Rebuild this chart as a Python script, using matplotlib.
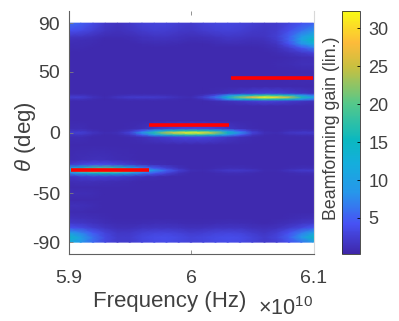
import matplotlib
matplotlib.use('Agg')
import matplotlib.pyplot as plt
from matplotlib.colors import LinearSegmentedColormap
import numpy as np

# ── Data ──────────────────────────────────────────────────────────────────────
freq_ghz = [590, 591, 592, 593, 594, 595, 596, 597, 598, 599, 600,
            601, 602, 603, 604, 605, 606, 607, 608, 609, 610]   # x 1e8 Hz

theta = [-90, -86, -82, -78, -74, -70, -65, -60, -55, -50, -45, -40, -36, -33, -31, -29, -26, -22,
         -10, -3.5, -1.7, 0, 1.7, 3.5, 10, 22, 26, 27.6, 29.3, 31, 32.6, 38, 44, 50, 56, 62, 66, 70, 73, 76, 79, 84, 90]

gain = [
    [12.0, 8.5, 5.5, 3.2, 2.2, 2.2, 3.0, 3.4, 3.6, 3.2, 2.8, 3.0, 3.4, 3.6, 3.4, 2.8, 2.0, 2.4, 4.0, 6.0, 9.0],
    [14.5, 10.0, 6.0, 3.4, 2.2, 2.3, 3.1, 3.6, 3.8, 3.4, 2.9, 3.1, 3.5, 3.8, 3.6, 2.9, 2.2, 3.0, 5.0, 8.5, 14.5],
    [9.0, 7.0, 4.5, 2.8, 1.8, 1.9, 2.5, 2.9, 3.0, 2.6, 2.2, 2.4, 2.8, 3.0, 2.8, 2.2, 1.7, 2.4, 4.0, 6.5, 10.0],
    [4.0, 3.4, 2.4, 1.6, 1.2, 1.2, 1.5, 1.7, 1.7, 1.5, 1.3, 1.4, 1.6, 1.7, 1.6, 1.3, 1.1, 1.4, 2.2, 3.2, 4.5],
    [2.0, 1.8, 1.4, 1.0, 0.8, 0.8, 0.9, 1.0, 1.0, 0.9, 0.8, 0.8, 0.9, 1.0, 0.9, 0.8, 0.7, 0.9, 1.2, 1.6, 2.0],
    [1.4, 1.2, 1.0, 0.8, 0.7, 0.7, 0.7, 0.7, 0.7, 0.7, 0.7, 0.7, 0.7, 0.7, 0.7, 0.7, 0.7, 0.7, 0.8, 1.0, 1.2],
    [0.8, 0.8, 0.7, 0.6, 0.6, 0.6, 0.6, 0.6, 0.6, 0.6, 0.6, 0.6, 0.6, 0.6, 0.6, 0.6, 0.6, 0.6, 0.6, 0.6, 0.7],
    [1.2, 1.1, 0.9, 0.7, 0.6, 0.6, 0.6, 0.6, 0.6, 0.6, 0.6, 0.6, 0.6, 0.6, 0.6, 0.6, 0.6, 0.6, 0.6, 0.6, 0.6],
    [0.7, 0.7, 0.6, 0.6, 0.6, 0.6, 0.6, 0.6, 0.6, 0.6, 0.6, 0.6, 0.6, 0.6, 0.6, 0.6, 0.6, 0.6, 0.6, 0.6, 0.6],
    [1.0, 1.0, 0.9, 0.7, 0.6, 0.6, 0.6, 0.6, 0.6, 0.6, 0.6, 0.6, 0.6, 0.6, 0.6, 0.6, 0.6, 0.6, 0.6, 0.6, 0.6],
    [0.7, 0.7, 0.7, 0.6, 0.6, 0.6, 0.6, 0.6, 0.6, 0.6, 0.6, 0.6, 0.6, 0.6, 0.6, 0.6, 0.6, 0.6, 0.6, 0.6, 0.6],
    [1.0, 1.1, 1.1, 1.0, 0.9, 0.8, 0.7, 0.6, 0.6, 0.6, 0.6, 0.6, 0.6, 0.6, 0.6, 0.6, 0.6, 0.6, 0.6, 0.6, 0.6],
    [1.6, 2.2, 2.5, 2.5, 2.2, 1.7, 1.2, 0.9, 0.7, 0.6, 0.6, 0.6, 0.6, 0.6, 0.6, 0.6, 0.6, 0.6, 0.6, 0.6, 0.6],
    [7.0, 11.0, 14.0, 15.0, 13.0, 10.0, 6.5, 4.5, 2.8, 1.3, 0.7, 0.7, 0.8, 1.0, 1.0, 0.8, 0.7, 0.7, 0.8, 1.0, 1.0],
    [14.0, 22.0, 28.0, 30.0, 28.0, 21.0, 13.0, 9.0, 5.0, 2.5, 1.0, 0.8, 1.4, 2.0, 2.0, 1.6, 0.8, 0.8, 1.5, 2.2, 2.2],
    [9.0, 14.0, 18.0, 19.0, 17.0, 12.0, 7.0, 4.5, 2.6, 1.3, 0.7, 0.7, 0.8, 1.0, 1.0, 0.8, 0.7, 0.7, 0.8, 1.0, 1.0],
    [2.0, 3.0, 3.6, 3.6, 3.0, 2.2, 1.4, 1.0, 0.8, 0.6, 0.6, 0.6, 0.6, 0.6, 0.6, 0.6, 0.6, 0.6, 0.6, 0.6, 0.6],
    [0.8, 1.0, 1.1, 1.1, 0.9, 0.8, 0.7, 0.6, 0.6, 0.6, 0.6, 0.6, 0.6, 0.6, 0.6, 0.6, 0.6, 0.6, 0.6, 0.6, 0.6],
    [0.6, 0.6, 0.6, 0.6, 0.6, 0.6, 0.6, 0.6, 0.6, 0.6, 0.6, 0.6, 0.6, 0.6, 0.6, 0.6, 0.6, 0.6, 0.6, 0.6, 0.6],
    [0.9, 1.0, 0.7, 0.6, 0.6, 0.8, 1.2, 1.8, 2.4, 3.0, 3.2, 3.1, 2.6, 1.8, 1.2, 0.8, 0.6, 0.6, 0.6, 0.7, 0.7],
    [1.5, 1.7, 1.0, 0.7, 0.8, 1.6, 4.5, 9.0, 13.0, 16.0, 17.0, 16.0, 13.0, 8.0, 4.5, 1.7, 0.8, 0.7, 1.0, 1.2, 1.2],
    [2.4, 2.6, 1.5, 0.9, 1.2, 3.0, 9.0, 17.0, 25.0, 30.0, 32.0, 30.5, 24.0, 15.0, 8.0, 3.0, 1.2, 0.9, 1.8, 2.2, 2.2],
    [1.5, 1.7, 1.0, 0.7, 0.8, 1.6, 4.5, 9.0, 13.0, 16.0, 17.0, 16.0, 13.0, 8.0, 4.5, 1.7, 0.8, 0.7, 1.0, 1.2, 1.2],
    [0.9, 1.0, 0.7, 0.6, 0.6, 0.8, 1.2, 1.8, 2.4, 3.0, 3.2, 3.1, 2.6, 1.8, 1.2, 0.8, 0.6, 0.6, 0.6, 0.7, 0.7],
    [0.6, 0.6, 0.6, 0.6, 0.6, 0.6, 0.6, 0.6, 0.6, 0.6, 0.6, 0.6, 0.6, 0.6, 0.6, 0.6, 0.6, 0.6, 0.6, 0.6, 0.6],
    [0.6, 0.6, 0.6, 0.6, 0.6, 0.6, 0.6, 0.6, 0.6, 0.6, 0.6, 0.6, 0.6, 0.6, 0.6, 0.6, 0.6, 0.6, 0.6, 0.6, 0.6],
    [0.7, 0.7, 0.6, 0.6, 0.6, 0.6, 0.6, 0.6, 0.6, 0.6, 0.6, 0.7, 0.9, 1.3, 1.8, 2.4, 2.8, 2.6, 2.2, 1.6, 1.2],
    [1.4, 1.4, 0.9, 0.6, 0.9, 1.1, 1.2, 1.1, 1.0, 0.8, 0.7, 1.3, 3.2, 7.5, 12.0, 15.0, 17.0, 16.0, 13.5, 8.5, 6.0],
    [2.4, 2.4, 1.4, 0.8, 1.6, 2.1, 2.3, 2.1, 1.8, 1.1, 0.9, 2.5, 6.0, 14.0, 22.0, 28.0, 32.0, 30.0, 25.0, 16.0, 11.0],
    [1.4, 1.4, 0.9, 0.6, 0.9, 1.1, 1.2, 1.1, 1.0, 0.8, 0.7, 1.3, 3.2, 7.5, 12.0, 15.0, 17.0, 16.0, 13.5, 8.5, 6.0],
    [0.7, 0.7, 0.6, 0.6, 0.6, 0.6, 0.6, 0.6, 0.6, 0.6, 0.6, 0.7, 0.9, 1.3, 1.8, 2.4, 2.8, 2.6, 2.2, 1.6, 1.2],
    [0.6, 0.6, 0.6, 0.6, 0.6, 0.6, 0.6, 0.6, 0.6, 0.6, 0.6, 0.6, 0.6, 0.6, 0.6, 0.6, 0.6, 0.6, 0.6, 0.6, 0.6],
    [0.6, 0.6, 0.6, 0.6, 0.6, 0.6, 0.6, 0.6, 0.6, 0.6, 0.6, 0.6, 0.6, 0.6, 0.6, 0.6, 0.6, 0.7, 0.8, 0.8, 0.9],
    [0.6, 0.6, 0.6, 0.6, 0.6, 0.6, 0.6, 0.6, 0.6, 0.6, 0.6, 0.6, 0.6, 0.6, 0.6, 0.6, 0.6, 0.6, 0.6, 0.6, 0.6],
    [0.6, 0.6, 0.6, 0.6, 0.6, 0.6, 0.6, 0.6, 0.6, 0.6, 0.6, 0.6, 0.6, 0.6, 0.6, 0.6, 0.7, 0.8, 0.9, 1.1, 1.2],
    [0.7, 0.7, 0.6, 0.6, 0.6, 0.6, 0.6, 0.6, 0.6, 0.6, 0.6, 0.6, 0.6, 0.6, 0.6, 0.6, 0.6, 0.7, 0.8, 1.0, 1.1],
    [0.7, 0.7, 0.7, 0.6, 0.6, 0.6, 0.6, 0.6, 0.6, 0.6, 0.6, 0.6, 0.6, 0.6, 0.6, 0.6, 0.7, 0.9, 1.4, 2.2, 3.0],
    [0.8, 0.8, 0.7, 0.6, 0.6, 0.6, 0.7, 0.7, 0.7, 0.7, 0.6, 0.6, 0.7, 0.7, 0.7, 0.7, 0.8, 1.2, 2.4, 4.5, 7.0],
    [0.9, 0.9, 0.8, 0.7, 0.6, 0.7, 0.8, 0.9, 0.9, 0.8, 0.7, 0.7, 0.9, 1.0, 1.0, 0.9, 1.0, 1.7, 4.0, 8.0, 12.0],
    [1.1, 1.0, 0.9, 0.7, 0.7, 0.8, 1.1, 1.3, 1.3, 1.1, 0.9, 1.0, 1.2, 1.5, 1.4, 1.2, 1.3, 2.2, 5.0, 10.0, 15.0],
    [1.8, 1.6, 1.3, 0.9, 0.9, 1.0, 1.4, 1.6, 1.6, 1.4, 1.1, 1.3, 1.6, 1.9, 1.8, 1.5, 1.6, 2.5, 5.0, 9.0, 13.0],
    [4.0, 3.5, 2.5, 1.6, 1.3, 1.6, 2.2, 2.5, 2.4, 2.0, 1.8, 2.3, 2.7, 2.8, 2.5, 2.0, 1.8, 2.3, 3.8, 6.0, 8.0],
    [6.0, 5.0, 3.5, 2.0, 1.5, 2.0, 2.8, 3.0, 3.0, 2.5, 2.2, 2.8, 3.2, 3.3, 3.0, 2.5, 2.0, 2.2, 3.0, 4.0, 5.0],
]

# red segments: frequency span (Hz) and angle
seg_f0 = [5.902e10, 5.966e10, 6.033e10]
seg_f1 = [5.966e10, 6.031e10, 6.0995e10]
seg_theta = [-30.7, 6, 45]

x_ticks = [5.9e10, 6e10, 6.1e10]
x_labels = ["5.9", "6", "6.1"]
y_ticks = [-90, -50, 0, 50, 90]
cb_ticks = [5, 10, 15, 20, 25, 30]

# ── Style ─────────────────────────────────────────────────────────────────────
TXT = "#404040"
plt.rcParams.update({
    "font.family": "Liberation Sans",
    "mathtext.fontset": "custom",
    "mathtext.rm": "Liberation Sans",
    "mathtext.it": "Liberation Sans:italic",
    "axes.unicode_minus": False,
    "text.color": TXT,
})

parula = LinearSegmentedColormap.from_list("parula", [
    (0.00, "#3e26a8"), (0.125, "#4752f4"), (0.25, "#2796eb"), (0.375, "#14aedc"),
    (0.47, "#0bb8c0"), (0.62, "#55c88a"), (0.77, "#c8c040"), (0.87, "#fdbb3a"), (1.00, "#f9fb15"),
])

W, H = 399, 321
fig = plt.figure(figsize=(W / 100, H / 100), dpi=100, facecolor="white")

def px_axes(x0, y0, x1, y1):
    return fig.add_axes([x0 / W, 1 - y1 / H, (x1 - x0) / W, (y1 - y0) / H])

ax = px_axes(68.5, 11, 313.5, 254.3)
freq_hz = np.array(freq_ghz) * 1e8
mesh = ax.pcolormesh(freq_hz, theta, np.array(gain), cmap=parula, vmin=0.2, vmax=32.3,
                     shading="gouraud", rasterized=True)
for f0, f1, th in zip(seg_f0, seg_f1, seg_theta):
    ax.plot([f0, f1], [th, th], color="#ff0000", lw=2.6, solid_capstyle="butt")

ax.set_xlim(5.9e10, 6.1e10)
ax.set_ylim(-100, 100)
ax.set_xticks(x_ticks, x_labels)
ax.set_yticks(y_ticks)
ax.tick_params(axis="both", direction="in", length=3, width=0.6, color="#808080",
               labelsize=14, labelcolor=TXT, top=True)
ax.tick_params(axis="x", pad=11)
ax.tick_params(axis="y", pad=6)
ax.spines["top"].set_visible(False)
ax.spines["right"].set_color("#d8d8d8")
ax.spines["left"].set_color("#606060")
ax.spines["bottom"].set_color("#606060")

fig.text(170 / W, 1 - 302 / H, "Frequency (Hz)", fontsize=16, ha="center", va="center")
fig.text(26 / W, 1 - 137 / H, r"$\it{\theta}$ (deg)", fontsize=16, rotation=90, ha="center", va="center")
fig.text(258 / W, 1 - 315 / H, r"$\times\mathrm{10^{10}}$", fontsize=15.5, ha="left", va="baseline")

cax = px_axes(341.5, 11, 360, 254.3)
cb = fig.colorbar(mesh, cax=cax)
cb.set_ticks(cb_ticks)
cb.ax.tick_params(direction="in", length=2, width=0.6, labelsize=13, labelcolor=TXT, pad=6)
cb.outline.set_edgecolor("#303030")
cb.outline.set_linewidth(0.6)
fig.text(332 / W, 1 - 128 / H, "Beamforming gain (lin.)", fontsize=12.8, rotation=90, ha="center", va="center")

fig.savefig("out.png", dpi=100)
